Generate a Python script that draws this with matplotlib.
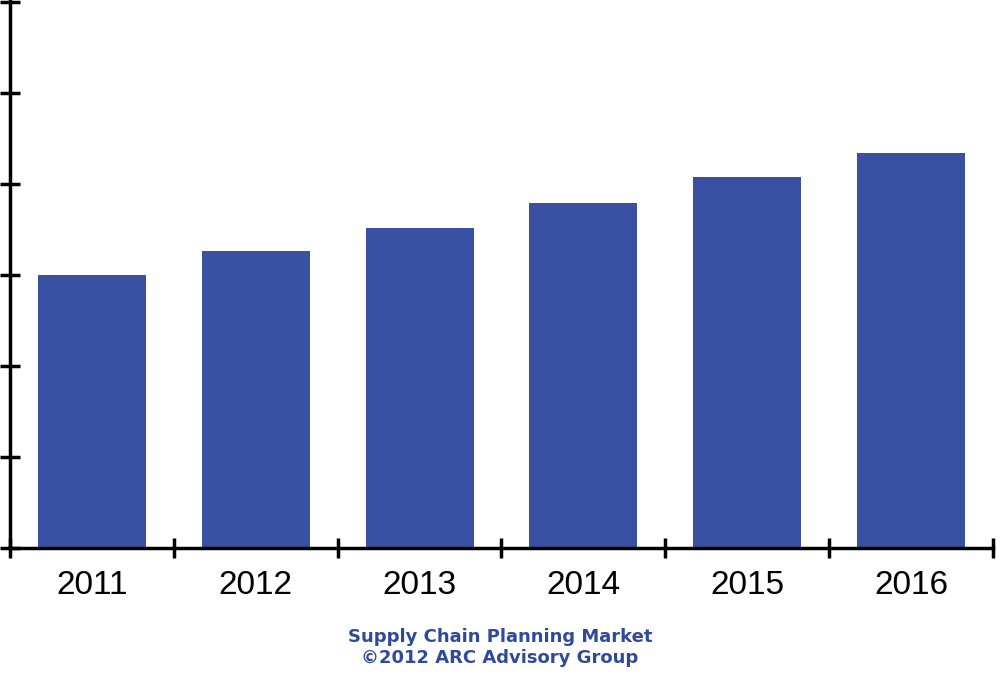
import matplotlib
matplotlib.use("Agg")
import matplotlib.pyplot as plt
import numpy as np

years = ["2011", "2012", "2013", "2014", "2015", "2016"]
values = [3.0, 3.26, 3.52, 3.79, 4.07, 4.34]

fig = plt.figure(figsize=(10, 6.9), dpi=100)
ax = fig.add_axes([0.01, 0.206, 0.983, 0.794])
x = np.arange(len(years))
ax.bar(x, values, width=0.66, color="#3A50A2")
ax.set_xlim(-0.5, len(years) - 0.5)
ax.set_ylim(0, 6.02)
for s in ["top", "right"]:
    ax.spines[s].set_visible(False)
for s in ["left", "bottom"]:
    ax.spines[s].set_linewidth(2.5)
    ax.spines[s].set_color("black")
ax.set_yticks(np.arange(0, 7, 1))
ax.set_yticklabels([])
ax.set_xticks(np.arange(-0.5, len(years), 1), minor=False)
ax.set_xticklabels([])
ax.set_xticks(x, minor=True)
ax.set_xticklabels(years, minor=True, fontsize=24, family="Liberation Sans")
ax.tick_params(axis="x", which="minor", length=0, pad=16)
ax.tick_params(axis="both", which="major", direction="inout", length=14, width=2.5)
fig.text(0.5, 0.062, "Supply Chain Planning Market\n©2012 ARC Advisory Group",
         ha="center", va="center", fontsize=13, fontweight="bold", color="#2E4A9A",
         linespacing=1.2)
fig.savefig("out.png")
